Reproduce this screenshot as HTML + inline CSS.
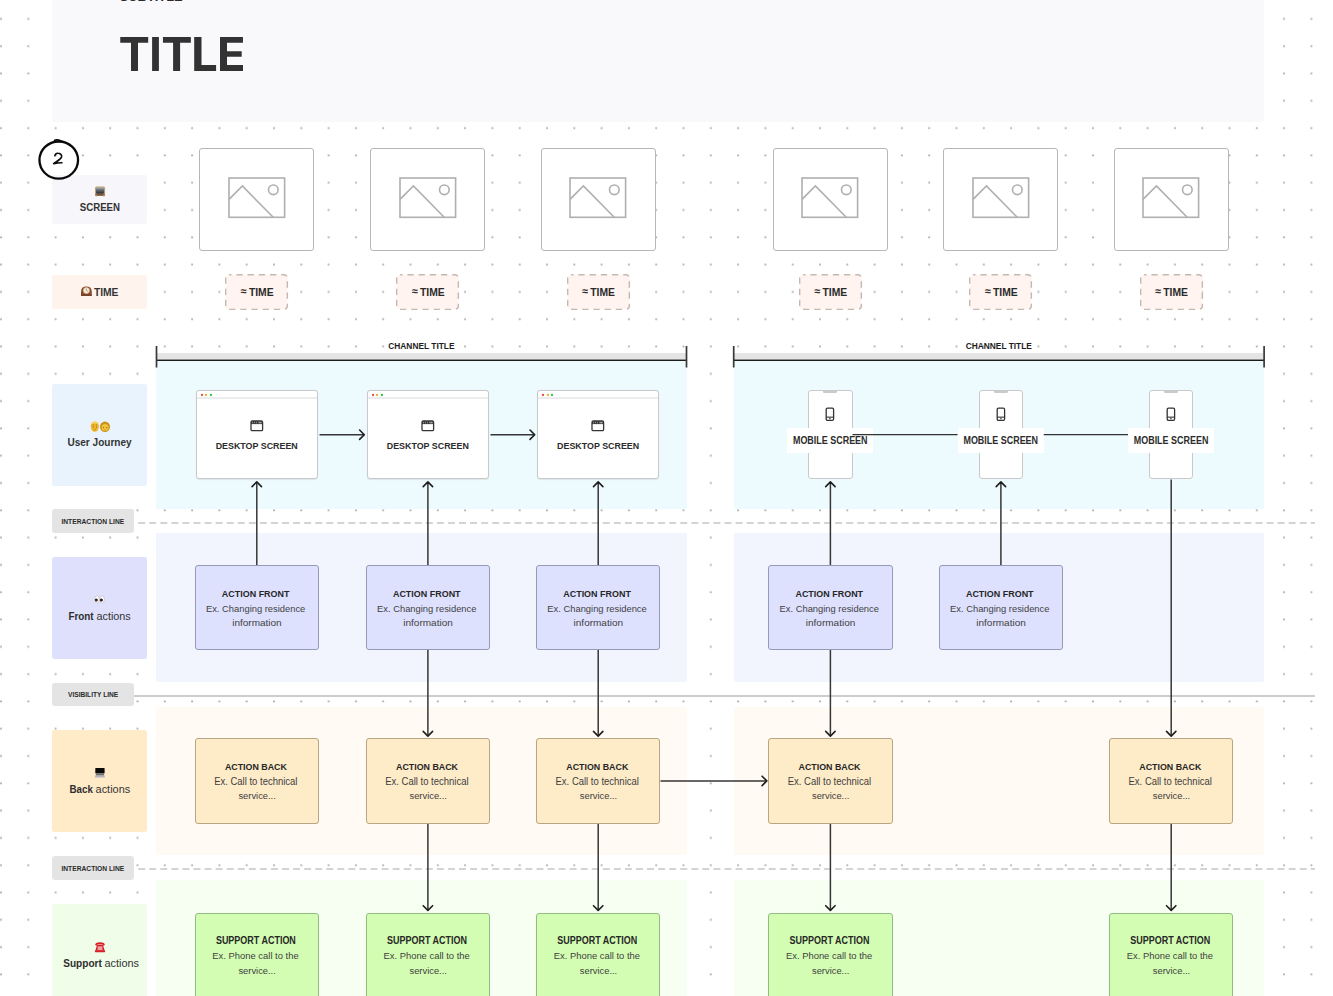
<!DOCTYPE html><html><head><meta charset="utf-8"><title>Service Blueprint</title><style>
html,body{margin:0;padding:0;}
body{width:1333px;height:996px;overflow:hidden;position:relative;background:#fff;font-family:'Liberation Sans', sans-serif;}
svg{position:absolute;left:0;top:0;}
.t{position:absolute;white-space:nowrap;transform-origin:0 0;}
</style></head><body>
<svg width="1333" height="996"><defs><pattern id="dp" x="0" y="0" width="27.3" height="27.3" patternUnits="userSpaceOnUse"><circle cx="1" cy="18.9" r="1.05" fill="#b2b2b2"/></pattern></defs><rect width="1333" height="996" fill="url(#dp)"/></svg>
<div style="position:absolute;left:52.00px;top:-4.00px;width:1211.80px;height:125.90px;background:#f9f9fb;border-radius:2.5px;"></div>
<svg width="260" height="80" style="left:0;top:0"><path fill="#323232" d="M120.25 37.1 H148.2 V42.8 H138 V70.9 H131 V42.8 H120.25 Z M152.1 37.1 H158.9 V70.9 H152.1 Z M162.95 37.1 H190.85 V42.8 H180.1 V70.9 H173.1 V42.8 H162.95 Z M194.2 37.1 H201.5 V65.1 H216.1 V70.9 H194.2 Z M220 37.1 H242.95 V42.8 H227 V51.2 H241.7 V56.8 H227 V65.1 H243 V70.9 H220 Z"/></svg>
<div style="position:absolute;left:52.00px;top:175.20px;width:95.40px;height:49.20px;background:#f6f6fb;border-radius:2.5px;"></div>
<div style="position:absolute;left:52.00px;top:274.70px;width:95.40px;height:34.70px;background:#fff3ee;border-radius:2.5px;"></div>
<div style="position:absolute;left:52.00px;top:383.50px;width:95.40px;height:102.40px;background:#e9f3fe;border-radius:2.5px;"></div>
<div style="position:absolute;left:52.00px;top:557.00px;width:95.40px;height:101.60px;background:#dfe1fc;border-radius:2.5px;"></div>
<div style="position:absolute;left:52.00px;top:730.40px;width:95.40px;height:101.30px;background:#ffebc8;border-radius:2.5px;"></div>
<div style="position:absolute;left:52.00px;top:904.30px;width:95.40px;height:100.00px;background:#effde9;border-radius:2.5px;"></div>
<div style="position:absolute;left:52.00px;top:509.20px;width:82.00px;height:23.60px;background:#e4e4e4;border-radius:3px;"></div>
<div style="position:absolute;left:52.00px;top:682.60px;width:82.00px;height:23.60px;background:#e4e4e4;border-radius:3px;"></div>
<div style="position:absolute;left:52.00px;top:856.00px;width:82.00px;height:23.60px;background:#e4e4e4;border-radius:3px;"></div>
<svg width="100" height="200" style="left:0;top:0"><g fill="none" stroke="#0a0a0a" stroke-linecap="round" stroke-linejoin="round">
<ellipse cx="58.75" cy="160.1" rx="19.3" ry="18.6" stroke-width="2.3"/>
<path d="M54.6 140.2 Q57.5 139.3 61.5 141.2" stroke-width="1.6"/>
<path d="M54.9 155.6 C55.3 153.9 56.6 153.2 58.0 153.3 C60.3 153.4 62.0 154.8 61.6 156.7 C61.1 158.7 57.8 161.0 53.6 163.6 C56.4 163.1 59.4 162.8 61.8 162.7" stroke-width="1.65"/>
</g></svg>
<div style="position:absolute;left:156.40px;top:361.20px;width:530.20px;height:147.40px;background:#edfbfe;border-radius:0 0 2px 2px;"></div>
<div style="position:absolute;left:156.40px;top:533.20px;width:530.20px;height:149.10px;background:#f2f4fe;border-radius:2px;"></div>
<div style="position:absolute;left:156.40px;top:706.70px;width:530.20px;height:148.30px;background:#fffaf3;border-radius:2px;"></div>
<div style="position:absolute;left:156.40px;top:879.50px;width:530.20px;height:130.00px;background:#f6fff1;border-radius:2px;"></div>
<div style="position:absolute;left:157.20px;top:353.30px;width:528.60px;height:6.10px;background:#e4e4e4;"></div>
<svg width="1333" height="400"><line x1="156.4" y1="360.15" x2="686.6" y2="360.15" stroke="#1c1c1c" stroke-width="1.5"/><line x1="156.5" y1="346" x2="156.5" y2="367.5" stroke="#383838" stroke-width="1.7"/><line x1="686.5" y1="346" x2="686.5" y2="367.5" stroke="#383838" stroke-width="1.7"/></svg>
<div style="position:absolute;left:733.60px;top:361.20px;width:530.60px;height:147.40px;background:#edfbfe;border-radius:0 0 2px 2px;"></div>
<div style="position:absolute;left:733.60px;top:533.20px;width:530.60px;height:149.10px;background:#f2f4fe;border-radius:2px;"></div>
<div style="position:absolute;left:733.60px;top:706.70px;width:530.60px;height:148.30px;background:#fffaf3;border-radius:2px;"></div>
<div style="position:absolute;left:733.60px;top:879.50px;width:530.60px;height:130.00px;background:#f6fff1;border-radius:2px;"></div>
<div style="position:absolute;left:734.40px;top:353.30px;width:529.00px;height:6.10px;background:#e4e4e4;"></div>
<svg width="1333" height="400"><line x1="733.6" y1="360.15" x2="1264.2" y2="360.15" stroke="#1c1c1c" stroke-width="1.5"/><line x1="733.7" y1="346" x2="733.7" y2="367.5" stroke="#383838" stroke-width="1.7"/><line x1="1264.1000000000001" y1="346" x2="1264.1000000000001" y2="367.5" stroke="#383838" stroke-width="1.7"/></svg>
<svg width="1333" height="700"><line x1="134" y1="696.0" x2="1315" y2="696.0" stroke="#bdbdbd" stroke-width="1.3"/></svg>
<svg width="1333" height="10" style="left:0;top:522.00px"><line x1="138.2" y1="1" x2="1315" y2="1" stroke="#c6c6c6" stroke-width="1.6" stroke-dasharray="7 4.062"/></svg>
<svg width="1333" height="10" style="left:0;top:868.30px"><line x1="138.2" y1="1" x2="1315" y2="1" stroke="#c6c6c6" stroke-width="1.6" stroke-dasharray="7 4.062"/></svg>
<div style="position:absolute;left:199.30px;top:148.20px;width:115.00px;height:103.20px;background:#fff;border:1px solid #b6b6b6;border-radius:3px;box-sizing:border-box;"></div>
<svg width="60" height="44" style="left:227.60px;top:176.6px"><g fill="none" stroke="#afafaf" stroke-width="1.6"><rect x="1" y="1" width="55.6" height="39.3"/><path d="M1 22.4 L14.4 9 L45.2 40.3"/><circle cx="45.3" cy="12.8" r="4.8"/></g></svg>
<div style="position:absolute;left:370.40px;top:148.20px;width:115.00px;height:103.20px;background:#fff;border:1px solid #b6b6b6;border-radius:3px;box-sizing:border-box;"></div>
<svg width="60" height="44" style="left:398.70px;top:176.6px"><g fill="none" stroke="#afafaf" stroke-width="1.6"><rect x="1" y="1" width="55.6" height="39.3"/><path d="M1 22.4 L14.4 9 L45.2 40.3"/><circle cx="45.3" cy="12.8" r="4.8"/></g></svg>
<div style="position:absolute;left:540.70px;top:148.20px;width:115.00px;height:103.20px;background:#fff;border:1px solid #b6b6b6;border-radius:3px;box-sizing:border-box;"></div>
<svg width="60" height="44" style="left:569.00px;top:176.6px"><g fill="none" stroke="#afafaf" stroke-width="1.6"><rect x="1" y="1" width="55.6" height="39.3"/><path d="M1 22.4 L14.4 9 L45.2 40.3"/><circle cx="45.3" cy="12.8" r="4.8"/></g></svg>
<div style="position:absolute;left:772.90px;top:148.20px;width:115.00px;height:103.20px;background:#fff;border:1px solid #b6b6b6;border-radius:3px;box-sizing:border-box;"></div>
<svg width="60" height="44" style="left:801.20px;top:176.6px"><g fill="none" stroke="#afafaf" stroke-width="1.6"><rect x="1" y="1" width="55.6" height="39.3"/><path d="M1 22.4 L14.4 9 L45.2 40.3"/><circle cx="45.3" cy="12.8" r="4.8"/></g></svg>
<div style="position:absolute;left:943.40px;top:148.20px;width:115.00px;height:103.20px;background:#fff;border:1px solid #b6b6b6;border-radius:3px;box-sizing:border-box;"></div>
<svg width="60" height="44" style="left:971.70px;top:176.6px"><g fill="none" stroke="#afafaf" stroke-width="1.6"><rect x="1" y="1" width="55.6" height="39.3"/><path d="M1 22.4 L14.4 9 L45.2 40.3"/><circle cx="45.3" cy="12.8" r="4.8"/></g></svg>
<div style="position:absolute;left:1113.70px;top:148.20px;width:115.00px;height:103.20px;background:#fff;border:1px solid #b6b6b6;border-radius:3px;box-sizing:border-box;"></div>
<svg width="60" height="44" style="left:1142.00px;top:176.6px"><g fill="none" stroke="#afafaf" stroke-width="1.6"><rect x="1" y="1" width="55.6" height="39.3"/><path d="M1 22.4 L14.4 9 L45.2 40.3"/><circle cx="45.3" cy="12.8" r="4.8"/></g></svg>
<svg width="66" height="40" style="left:225.20px;top:273.8px"><rect x="0.65" y="0.65" width="61.7" height="34.7" rx="3.5" fill="#fff4ef" stroke="#c5b8b2" stroke-width="1.45" stroke-dasharray="6.3 4.9" stroke-dashoffset="3.95"/></svg>
<svg width="66" height="40" style="left:396.30px;top:273.8px"><rect x="0.65" y="0.65" width="61.7" height="34.7" rx="3.5" fill="#fff4ef" stroke="#c5b8b2" stroke-width="1.45" stroke-dasharray="6.3 4.9" stroke-dashoffset="3.95"/></svg>
<svg width="66" height="40" style="left:566.60px;top:273.8px"><rect x="0.65" y="0.65" width="61.7" height="34.7" rx="3.5" fill="#fff4ef" stroke="#c5b8b2" stroke-width="1.45" stroke-dasharray="6.3 4.9" stroke-dashoffset="3.95"/></svg>
<svg width="66" height="40" style="left:798.80px;top:273.8px"><rect x="0.65" y="0.65" width="61.7" height="34.7" rx="3.5" fill="#fff4ef" stroke="#c5b8b2" stroke-width="1.45" stroke-dasharray="6.3 4.9" stroke-dashoffset="3.95"/></svg>
<svg width="66" height="40" style="left:969.30px;top:273.8px"><rect x="0.65" y="0.65" width="61.7" height="34.7" rx="3.5" fill="#fff4ef" stroke="#c5b8b2" stroke-width="1.45" stroke-dasharray="6.3 4.9" stroke-dashoffset="3.95"/></svg>
<svg width="66" height="40" style="left:1139.60px;top:273.8px"><rect x="0.65" y="0.65" width="61.7" height="34.7" rx="3.5" fill="#fff4ef" stroke="#c5b8b2" stroke-width="1.45" stroke-dasharray="6.3 4.9" stroke-dashoffset="3.95"/></svg>
<svg width="1333" height="996"><g fill="none" stroke="#363636" stroke-width="1.5"><line x1="319.5" y1="434.7" x2="364.3" y2="434.7"/><line x1="490.5" y1="434.7" x2="534.7" y2="434.7"/><line x1="256.8" y1="481.9" x2="256.8" y2="565"/><line x1="427.9" y1="481.9" x2="427.9" y2="565"/><line x1="598.2" y1="481.9" x2="598.2" y2="565"/><line x1="830.4" y1="481.9" x2="830.4" y2="565"/><line x1="1000.9" y1="481.9" x2="1000.9" y2="565"/><line x1="427.9" y1="650" x2="427.9" y2="736.1"/><line x1="598.2" y1="650" x2="598.2" y2="736.1"/><line x1="830.4" y1="650" x2="830.4" y2="736.1"/><line x1="1171.2" y1="479.5" x2="1171.2" y2="736.1"/><line x1="427.9" y1="823" x2="427.9" y2="910.4"/><line x1="598.2" y1="823" x2="598.2" y2="910.4"/><line x1="830.4" y1="823" x2="830.4" y2="910.4"/><line x1="1171.2" y1="823" x2="1171.2" y2="910.4"/><line x1="660.5" y1="780.9" x2="766.8" y2="780.9"/></g><g fill="none" stroke="#1e1e1e" stroke-width="1.6" stroke-linecap="round" stroke-linejoin="round"><polyline points="359.6,430.0 364.3,434.7 359.6,439.4"/><polyline points="530.0,430.0 534.7,434.7 530.0,439.4"/><polyline points="252.10000000000002,486.59999999999997 256.8,481.9 261.5,486.59999999999997"/><polyline points="423.2,486.59999999999997 427.9,481.9 432.59999999999997,486.59999999999997"/><polyline points="593.5,486.59999999999997 598.2,481.9 602.9000000000001,486.59999999999997"/><polyline points="825.6999999999999,486.59999999999997 830.4,481.9 835.1,486.59999999999997"/><polyline points="996.1999999999999,486.59999999999997 1000.9,481.9 1005.6,486.59999999999997"/><polyline points="423.2,731.4 427.9,736.1 432.59999999999997,731.4"/><polyline points="593.5,731.4 598.2,736.1 602.9000000000001,731.4"/><polyline points="825.6999999999999,731.4 830.4,736.1 835.1,731.4"/><polyline points="1166.5,731.4 1171.2,736.1 1175.9,731.4"/><polyline points="423.2,905.6999999999999 427.9,910.4 432.59999999999997,905.6999999999999"/><polyline points="593.5,905.6999999999999 598.2,910.4 602.9000000000001,905.6999999999999"/><polyline points="825.6999999999999,905.6999999999999 830.4,910.4 835.1,905.6999999999999"/><polyline points="1166.5,905.6999999999999 1171.2,910.4 1175.9,905.6999999999999"/><polyline points="762.0999999999999,776.1999999999999 766.8,780.9 762.0999999999999,785.6"/></g></svg>
<div style="position:absolute;left:195.80px;top:390.4px;width:122px;height:88.4px;background:#fff;border:1px solid #c9c9c9;border-radius:3px;box-sizing:border-box;box-shadow:0 0.5px 1px rgba(0,0,0,0.08)"></div>
<div style="position:absolute;left:196.80px;top:397.00px;width:120.00px;height:2.00px;background:#ececec;"></div>
<svg width="4" height="4" style="left:200.05px;top:392.6px"><circle cx="2" cy="2" r="1.15" fill="#f04a48"/></svg>
<svg width="4" height="4" style="left:204.20px;top:392.6px"><circle cx="2" cy="2" r="1.15" fill="#e9b12f"/></svg>
<svg width="4" height="4" style="left:208.50px;top:392.6px"><circle cx="2" cy="2" r="1.15" fill="#2bc842"/></svg>
<svg width="16" height="14" style="left:249.85px;top:419.55px"><rect x="1" y="1" width="11.6" height="9.6" rx="1.2" fill="none" stroke="#363636" stroke-width="1.3"/><rect x="1" y="1" width="11.6" height="3.1" fill="#363636"/><g fill="#9c9c9c"><rect x="2.1" y="1.7" width="0.8" height="1.7"/><rect x="4.2" y="1.7" width="0.8" height="1.7"/><rect x="6.2" y="1.7" width="0.8" height="1.7"/><rect x="8.4" y="1.7" width="3.2" height="1.7"/></g></svg>
<div style="position:absolute;left:366.90px;top:390.4px;width:122px;height:88.4px;background:#fff;border:1px solid #c9c9c9;border-radius:3px;box-sizing:border-box;box-shadow:0 0.5px 1px rgba(0,0,0,0.08)"></div>
<div style="position:absolute;left:367.90px;top:397.00px;width:120.00px;height:2.00px;background:#ececec;"></div>
<svg width="4" height="4" style="left:371.15px;top:392.6px"><circle cx="2" cy="2" r="1.15" fill="#f04a48"/></svg>
<svg width="4" height="4" style="left:375.30px;top:392.6px"><circle cx="2" cy="2" r="1.15" fill="#e9b12f"/></svg>
<svg width="4" height="4" style="left:379.60px;top:392.6px"><circle cx="2" cy="2" r="1.15" fill="#2bc842"/></svg>
<svg width="16" height="14" style="left:420.95px;top:419.55px"><rect x="1" y="1" width="11.6" height="9.6" rx="1.2" fill="none" stroke="#363636" stroke-width="1.3"/><rect x="1" y="1" width="11.6" height="3.1" fill="#363636"/><g fill="#9c9c9c"><rect x="2.1" y="1.7" width="0.8" height="1.7"/><rect x="4.2" y="1.7" width="0.8" height="1.7"/><rect x="6.2" y="1.7" width="0.8" height="1.7"/><rect x="8.4" y="1.7" width="3.2" height="1.7"/></g></svg>
<div style="position:absolute;left:537.20px;top:390.4px;width:122px;height:88.4px;background:#fff;border:1px solid #c9c9c9;border-radius:3px;box-sizing:border-box;box-shadow:0 0.5px 1px rgba(0,0,0,0.08)"></div>
<div style="position:absolute;left:538.20px;top:397.00px;width:120.00px;height:2.00px;background:#ececec;"></div>
<svg width="4" height="4" style="left:541.45px;top:392.6px"><circle cx="2" cy="2" r="1.15" fill="#f04a48"/></svg>
<svg width="4" height="4" style="left:545.60px;top:392.6px"><circle cx="2" cy="2" r="1.15" fill="#e9b12f"/></svg>
<svg width="4" height="4" style="left:549.90px;top:392.6px"><circle cx="2" cy="2" r="1.15" fill="#2bc842"/></svg>
<svg width="16" height="14" style="left:591.25px;top:419.55px"><rect x="1" y="1" width="11.6" height="9.6" rx="1.2" fill="none" stroke="#363636" stroke-width="1.3"/><rect x="1" y="1" width="11.6" height="3.1" fill="#363636"/><g fill="#9c9c9c"><rect x="2.1" y="1.7" width="0.8" height="1.7"/><rect x="4.2" y="1.7" width="0.8" height="1.7"/><rect x="6.2" y="1.7" width="0.8" height="1.7"/><rect x="8.4" y="1.7" width="3.2" height="1.7"/></g></svg>
<div style="position:absolute;left:808.10px;top:390.2px;width:44.5px;height:88.9px;background:#fff;border:1px solid #c9c9c9;border-radius:3px;box-sizing:border-box;"></div>
<div style="position:absolute;left:823.30px;top:391.10px;width:14.10px;height:2.30px;background:#cacaca;border-radius:0 0 1.2px 1.2px;"></div>
<svg width="12" height="16" style="left:825.40px;top:406.6px"><rect x="1.2" y="1.2" width="7.4" height="12.2" rx="1.3" fill="none" stroke="#333" stroke-width="1.3"/><rect x="1.2" y="9.6" width="7.4" height="1.1" fill="#333"/><rect x="4.1" y="11.2" width="1.6" height="1" fill="#333"/></svg>
<div style="position:absolute;left:787.40px;top:428.20px;width:86.00px;height:24.40px;background:#fff;"></div>
<div style="position:absolute;left:978.60px;top:390.2px;width:44.5px;height:88.9px;background:#fff;border:1px solid #c9c9c9;border-radius:3px;box-sizing:border-box;"></div>
<div style="position:absolute;left:993.80px;top:391.10px;width:14.10px;height:2.30px;background:#cacaca;border-radius:0 0 1.2px 1.2px;"></div>
<svg width="12" height="16" style="left:995.90px;top:406.6px"><rect x="1.2" y="1.2" width="7.4" height="12.2" rx="1.3" fill="none" stroke="#333" stroke-width="1.3"/><rect x="1.2" y="9.6" width="7.4" height="1.1" fill="#333"/><rect x="4.1" y="11.2" width="1.6" height="1" fill="#333"/></svg>
<div style="position:absolute;left:957.90px;top:428.20px;width:86.00px;height:24.40px;background:#fff;"></div>
<div style="position:absolute;left:1148.90px;top:390.2px;width:44.5px;height:88.9px;background:#fff;border:1px solid #c9c9c9;border-radius:3px;box-sizing:border-box;"></div>
<div style="position:absolute;left:1164.10px;top:391.10px;width:14.10px;height:2.30px;background:#cacaca;border-radius:0 0 1.2px 1.2px;"></div>
<svg width="12" height="16" style="left:1166.20px;top:406.6px"><rect x="1.2" y="1.2" width="7.4" height="12.2" rx="1.3" fill="none" stroke="#333" stroke-width="1.3"/><rect x="1.2" y="9.6" width="7.4" height="1.1" fill="#333"/><rect x="4.1" y="11.2" width="1.6" height="1" fill="#333"/></svg>
<div style="position:absolute;left:1128.20px;top:428.20px;width:86.00px;height:24.40px;background:#fff;"></div>
<svg width="1333" height="996"><g stroke="#333" stroke-width="1.4"><line x1="852.5" y1="434.6" x2="957.5" y2="434.6"/><line x1="1043.7" y1="434.6" x2="1128" y2="434.6"/></g></svg>
<div style="position:absolute;left:194.60px;top:564.9px;width:124.4px;height:85.6px;background:#dee1fe;border:1.4px solid #959ab9;border-radius:3px;box-sizing:border-box;"></div>
<div style="position:absolute;left:365.70px;top:564.9px;width:124.4px;height:85.6px;background:#dee1fe;border:1.4px solid #959ab9;border-radius:3px;box-sizing:border-box;"></div>
<div style="position:absolute;left:536.00px;top:564.9px;width:124.4px;height:85.6px;background:#dee1fe;border:1.4px solid #959ab9;border-radius:3px;box-sizing:border-box;"></div>
<div style="position:absolute;left:768.20px;top:564.9px;width:124.4px;height:85.6px;background:#dee1fe;border:1.4px solid #959ab9;border-radius:3px;box-sizing:border-box;"></div>
<div style="position:absolute;left:938.70px;top:564.9px;width:124.4px;height:85.6px;background:#dee1fe;border:1.4px solid #959ab9;border-radius:3px;box-sizing:border-box;"></div>
<div style="position:absolute;left:194.60px;top:738.2px;width:124.4px;height:85.5px;background:#feebc8;border:1.4px solid #b8a581;border-radius:3px;box-sizing:border-box;"></div>
<div style="position:absolute;left:365.70px;top:738.2px;width:124.4px;height:85.5px;background:#feebc8;border:1.4px solid #b8a581;border-radius:3px;box-sizing:border-box;"></div>
<div style="position:absolute;left:536.00px;top:738.2px;width:124.4px;height:85.5px;background:#feebc8;border:1.4px solid #b8a581;border-radius:3px;box-sizing:border-box;"></div>
<div style="position:absolute;left:768.20px;top:738.2px;width:124.4px;height:85.5px;background:#feebc8;border:1.4px solid #b8a581;border-radius:3px;box-sizing:border-box;"></div>
<div style="position:absolute;left:1109.00px;top:738.2px;width:124.4px;height:85.5px;background:#feebc8;border:1.4px solid #b8a581;border-radius:3px;box-sizing:border-box;"></div>
<div style="position:absolute;left:194.60px;top:912.5px;width:124.4px;height:95px;background:#d3fdb3;border:1.4px solid #93bc80;border-radius:3px;box-sizing:border-box;"></div>
<div style="position:absolute;left:365.70px;top:912.5px;width:124.4px;height:95px;background:#d3fdb3;border:1.4px solid #93bc80;border-radius:3px;box-sizing:border-box;"></div>
<div style="position:absolute;left:536.00px;top:912.5px;width:124.4px;height:95px;background:#d3fdb3;border:1.4px solid #93bc80;border-radius:3px;box-sizing:border-box;"></div>
<div style="position:absolute;left:768.20px;top:912.5px;width:124.4px;height:95px;background:#d3fdb3;border:1.4px solid #93bc80;border-radius:3px;box-sizing:border-box;"></div>
<div style="position:absolute;left:1109.00px;top:912.5px;width:124.4px;height:95px;background:#d3fdb3;border:1.4px solid #93bc80;border-radius:3px;box-sizing:border-box;"></div>
<svg width="130" height="996"><defs>
<linearGradient id="tvg" x1="0" y1="0" x2="0" y2="1"><stop offset="0" stop-color="#a9b3bc"/><stop offset="0.35" stop-color="#6c7379"/><stop offset="1" stop-color="#25292c"/></linearGradient>
</defs>
<rect x="95" y="186.5" width="10.1" height="9.5" rx="1.6" fill="#b9a274"/>
<rect x="96" y="187.5" width="8.1" height="6.3" rx="1.6" fill="url(#tvg)"/>
<rect x="95.3" y="193.9" width="9.5" height="1.6" fill="#a65c46"/>
<rect x="96.7" y="193.9" width="6.7" height="1.6" fill="#6d5a44"/>
<rect x="95.6" y="195.4" width="1.4" height="1.3" fill="#cbb486"/><rect x="103.2" y="195.4" width="1.4" height="1.3" fill="#cbb486"/>
<path d="M81 295.8 L81 291.8 Q81 286.5 86.4 286.5 Q91.8 286.5 91.8 291.8 L91.8 295.8 Z" fill="#8c4b2f"/>
<rect x="81" y="294.6" width="10.8" height="1.2" fill="#6e3822"/>
<circle cx="86.4" cy="290.5" r="3.1" fill="#f4ecd6" stroke="#cdb27c" stroke-width="0.6"/>
<path d="M86.4 288.6 L86.4 290.5 L87.8 291.3" stroke="#555" stroke-width="0.5" fill="none"/>
<ellipse cx="94.8" cy="426.6" rx="4.1" ry="5.2" fill="#f1b82b"/>
<path d="M91 424.5 Q91.5 421.2 94.8 421.3 Q98.2 421.3 98.7 424.3 L98.2 423.6 Q95 422.6 91.5 424 Z" fill="#f6d777"/>
<rect x="92.4" y="424.6" width="1.6" height="0.8" fill="#a97814"/><rect x="95.7" y="424.6" width="1.6" height="0.8" fill="#a97814"/>
<circle cx="93.3" cy="427" r="0.6" fill="#7a5a3a"/><circle cx="96.5" cy="427" r="0.6" fill="#7a5a3a"/>
<rect x="93.8" y="429.3" width="2.2" height="0.8" fill="#b8860f"/>
<ellipse cx="105" cy="426.7" rx="5" ry="5.2" fill="#c99218"/>
<ellipse cx="105.1" cy="427.5" rx="3.5" ry="3.5" fill="#f4c43c"/>
<circle cx="103.6" cy="427.6" r="0.6" fill="#7a5a3a"/><circle cx="106.8" cy="427.6" r="0.6" fill="#7a5a3a"/>
<rect x="104.3" y="429.5" width="1.8" height="0.7" fill="#b8860f"/>
<ellipse cx="97" cy="599.4" rx="2.2" ry="3.7" fill="#fff" stroke="#a9a9b9" stroke-width="0.5"/><ellipse cx="102.1" cy="599.4" rx="2.2" ry="3.7" fill="#fff" stroke="#a9a9b9" stroke-width="0.5"/>
<circle cx="96.3" cy="600.0" r="1.5" fill="#2a1a12"/><circle cx="101.4" cy="600.0" r="1.5" fill="#2a1a12"/>
<circle cx="95.9" cy="600.6" r="0.5" fill="#8a3a1a"/><circle cx="102.2" cy="599.9" r="0.5" fill="#8a3a1a"/>
<rect x="95.3" y="767.9" width="9.3" height="5.4" rx="0.4" fill="#0a0a0a"/>
<rect x="95.8" y="773.2" width="8.3" height="2.4" fill="#6b6b6b"/>
<rect x="95" y="775.5" width="9.8" height="2.1" rx="0.5" fill="#b3b6bf"/>
<path d="M95.2 945 Q95.2 942.3 100 942.2 Q104.8 942.3 104.8 945 L103.2 945.8 L102.6 944.4 L97.4 944.4 L96.8 945.8 Z" fill="#d81f26"/>
<path d="M97 945 L103 945 L104.6 950.6 L95.4 950.6 Z" fill="#d81f26"/>
<rect x="97.6" y="946.3" width="4.8" height="3.7" fill="#e9a3a3"/>
<rect x="94.9" y="950.3" width="10.2" height="1.9" rx="0.6" fill="#d81f26"/>
</svg>
<svg width="1333" height="996" style="font-family:'Liberation Sans', sans-serif"><text x="119.74" y="1.20" font-size="12.79" font-weight="700" fill="#2a2a2a" textLength="62.93" lengthAdjust="spacingAndGlyphs">SUBTITLE</text><text x="388.27" y="348.80" font-size="9.59" font-weight="700" fill="#1e1e1e" textLength="66.24" lengthAdjust="spacingAndGlyphs">CHANNEL TITLE</text><text x="965.67" y="348.80" font-size="9.59" font-weight="700" fill="#1e1e1e" textLength="66.24" lengthAdjust="spacingAndGlyphs">CHANNEL TITLE</text><text x="240.58" y="294.90" font-size="11.00" font-weight="700" fill="#2a2a2a" textLength="5.92" lengthAdjust="spacingAndGlyphs">&#8776;</text><text x="248.90" y="296.00" font-size="11.48" font-weight="700" fill="#2a2a2a" textLength="24.69" lengthAdjust="spacingAndGlyphs">TIME</text><text x="411.68" y="294.90" font-size="11.00" font-weight="700" fill="#2a2a2a" textLength="5.92" lengthAdjust="spacingAndGlyphs">&#8776;</text><text x="420.00" y="296.00" font-size="11.48" font-weight="700" fill="#2a2a2a" textLength="24.69" lengthAdjust="spacingAndGlyphs">TIME</text><text x="581.98" y="294.90" font-size="11.00" font-weight="700" fill="#2a2a2a" textLength="5.92" lengthAdjust="spacingAndGlyphs">&#8776;</text><text x="590.30" y="296.00" font-size="11.48" font-weight="700" fill="#2a2a2a" textLength="24.69" lengthAdjust="spacingAndGlyphs">TIME</text><text x="814.18" y="294.90" font-size="11.00" font-weight="700" fill="#2a2a2a" textLength="5.92" lengthAdjust="spacingAndGlyphs">&#8776;</text><text x="822.50" y="296.00" font-size="11.48" font-weight="700" fill="#2a2a2a" textLength="24.69" lengthAdjust="spacingAndGlyphs">TIME</text><text x="984.68" y="294.90" font-size="11.00" font-weight="700" fill="#2a2a2a" textLength="5.92" lengthAdjust="spacingAndGlyphs">&#8776;</text><text x="993.00" y="296.00" font-size="11.48" font-weight="700" fill="#2a2a2a" textLength="24.69" lengthAdjust="spacingAndGlyphs">TIME</text><text x="1154.98" y="294.90" font-size="11.00" font-weight="700" fill="#2a2a2a" textLength="5.92" lengthAdjust="spacingAndGlyphs">&#8776;</text><text x="1163.30" y="296.00" font-size="11.48" font-weight="700" fill="#2a2a2a" textLength="24.69" lengthAdjust="spacingAndGlyphs">TIME</text><text x="79.81" y="211.30" font-size="10.76" font-weight="700" fill="#333" textLength="40.19" lengthAdjust="spacingAndGlyphs">SCREEN</text><text x="93.90" y="295.80" font-size="11.19" font-weight="700" fill="#333" textLength="24.48" lengthAdjust="spacingAndGlyphs">TIME</text><text x="67.40" y="446.10" font-size="10.32" font-weight="700" fill="#333" textLength="64.26" lengthAdjust="spacingAndGlyphs">User Journey</text><text x="68.41" y="619.60" font-size="10.76" font-weight="700" fill="#2e2e2e" textLength="25.22" lengthAdjust="spacingAndGlyphs">Front</text><text x="96.47" y="619.60" font-size="10.76" font-weight="400" fill="#333" textLength="34.26" lengthAdjust="spacingAndGlyphs">actions</text><text x="69.51" y="792.70" font-size="10.76" font-weight="700" fill="#2e2e2e" textLength="23.35" lengthAdjust="spacingAndGlyphs">Back</text><text x="95.56" y="792.70" font-size="10.76" font-weight="400" fill="#333" textLength="34.67" lengthAdjust="spacingAndGlyphs">actions</text><text x="63.20" y="966.90" font-size="10.76" font-weight="700" fill="#2e2e2e" textLength="38.63" lengthAdjust="spacingAndGlyphs">Support</text><text x="104.46" y="966.90" font-size="10.76" font-weight="400" fill="#333" textLength="34.56" lengthAdjust="spacingAndGlyphs">actions</text><text x="61.40" y="523.90" font-size="7.27" font-weight="700" fill="#2a2a2a" textLength="62.85" lengthAdjust="spacingAndGlyphs">INTERACTION LINE</text><text x="68.00" y="697.20" font-size="7.56" font-weight="700" fill="#2a2a2a" textLength="50.24" lengthAdjust="spacingAndGlyphs">VISIBILITY LINE</text><text x="61.40" y="870.70" font-size="7.27" font-weight="700" fill="#2a2a2a" textLength="62.85" lengthAdjust="spacingAndGlyphs">INTERACTION LINE</text><text x="215.67" y="448.90" font-size="9.74" font-weight="700" fill="#2b2b2b" textLength="82.08" lengthAdjust="spacingAndGlyphs">DESKTOP SCREEN</text><text x="386.77" y="448.90" font-size="9.74" font-weight="700" fill="#2b2b2b" textLength="82.08" lengthAdjust="spacingAndGlyphs">DESKTOP SCREEN</text><text x="557.07" y="448.90" font-size="9.74" font-weight="700" fill="#2b2b2b" textLength="82.08" lengthAdjust="spacingAndGlyphs">DESKTOP SCREEN</text><text x="792.96" y="443.50" font-size="10.47" font-weight="700" fill="#2b2b2b" textLength="74.59" lengthAdjust="spacingAndGlyphs">MOBILE SCREEN</text><text x="963.46" y="443.50" font-size="10.47" font-weight="700" fill="#2b2b2b" textLength="74.59" lengthAdjust="spacingAndGlyphs">MOBILE SCREEN</text><text x="1133.76" y="443.50" font-size="10.47" font-weight="700" fill="#2b2b2b" textLength="74.59" lengthAdjust="spacingAndGlyphs">MOBILE SCREEN</text><text x="221.82" y="596.80" font-size="9.74" font-weight="700" fill="#262626" textLength="67.69" lengthAdjust="spacingAndGlyphs">ACTION FRONT</text><text x="205.95" y="611.80" font-size="9.88" font-weight="400" fill="#3f3f3f" textLength="99.39" lengthAdjust="spacingAndGlyphs">Ex. Changing residence</text><text x="232.20" y="625.80" font-size="9.60" font-weight="400" fill="#3f3f3f" textLength="49.46" lengthAdjust="spacingAndGlyphs">information</text><text x="392.92" y="596.80" font-size="9.74" font-weight="700" fill="#262626" textLength="67.69" lengthAdjust="spacingAndGlyphs">ACTION FRONT</text><text x="377.05" y="611.80" font-size="9.88" font-weight="400" fill="#3f3f3f" textLength="99.39" lengthAdjust="spacingAndGlyphs">Ex. Changing residence</text><text x="403.30" y="625.80" font-size="9.60" font-weight="400" fill="#3f3f3f" textLength="49.46" lengthAdjust="spacingAndGlyphs">information</text><text x="563.22" y="596.80" font-size="9.74" font-weight="700" fill="#262626" textLength="67.69" lengthAdjust="spacingAndGlyphs">ACTION FRONT</text><text x="547.35" y="611.80" font-size="9.88" font-weight="400" fill="#3f3f3f" textLength="99.39" lengthAdjust="spacingAndGlyphs">Ex. Changing residence</text><text x="573.60" y="625.80" font-size="9.60" font-weight="400" fill="#3f3f3f" textLength="49.46" lengthAdjust="spacingAndGlyphs">information</text><text x="795.42" y="596.80" font-size="9.74" font-weight="700" fill="#262626" textLength="67.69" lengthAdjust="spacingAndGlyphs">ACTION FRONT</text><text x="779.55" y="611.80" font-size="9.88" font-weight="400" fill="#3f3f3f" textLength="99.39" lengthAdjust="spacingAndGlyphs">Ex. Changing residence</text><text x="805.80" y="625.80" font-size="9.60" font-weight="400" fill="#3f3f3f" textLength="49.46" lengthAdjust="spacingAndGlyphs">information</text><text x="965.92" y="596.80" font-size="9.74" font-weight="700" fill="#262626" textLength="67.69" lengthAdjust="spacingAndGlyphs">ACTION FRONT</text><text x="950.05" y="611.80" font-size="9.88" font-weight="400" fill="#3f3f3f" textLength="99.39" lengthAdjust="spacingAndGlyphs">Ex. Changing residence</text><text x="976.30" y="625.80" font-size="9.60" font-weight="400" fill="#3f3f3f" textLength="49.46" lengthAdjust="spacingAndGlyphs">information</text><text x="224.92" y="769.90" font-size="9.88" font-weight="700" fill="#262626" textLength="62.00" lengthAdjust="spacingAndGlyphs">ACTION BACK</text><text x="214.14" y="784.50" font-size="10.03" font-weight="400" fill="#3f3f3f" textLength="83.35" lengthAdjust="spacingAndGlyphs">Ex. Call to technical</text><text x="238.41" y="799.10" font-size="9.60" font-weight="400" fill="#3f3f3f" textLength="37.41" lengthAdjust="spacingAndGlyphs">service...</text><text x="396.02" y="769.90" font-size="9.88" font-weight="700" fill="#262626" textLength="62.00" lengthAdjust="spacingAndGlyphs">ACTION BACK</text><text x="385.24" y="784.50" font-size="10.03" font-weight="400" fill="#3f3f3f" textLength="83.35" lengthAdjust="spacingAndGlyphs">Ex. Call to technical</text><text x="409.51" y="799.10" font-size="9.60" font-weight="400" fill="#3f3f3f" textLength="37.41" lengthAdjust="spacingAndGlyphs">service...</text><text x="566.32" y="769.90" font-size="9.88" font-weight="700" fill="#262626" textLength="62.00" lengthAdjust="spacingAndGlyphs">ACTION BACK</text><text x="555.54" y="784.50" font-size="10.03" font-weight="400" fill="#3f3f3f" textLength="83.35" lengthAdjust="spacingAndGlyphs">Ex. Call to technical</text><text x="579.81" y="799.10" font-size="9.60" font-weight="400" fill="#3f3f3f" textLength="37.41" lengthAdjust="spacingAndGlyphs">service...</text><text x="798.52" y="769.90" font-size="9.88" font-weight="700" fill="#262626" textLength="62.00" lengthAdjust="spacingAndGlyphs">ACTION BACK</text><text x="787.74" y="784.50" font-size="10.03" font-weight="400" fill="#3f3f3f" textLength="83.35" lengthAdjust="spacingAndGlyphs">Ex. Call to technical</text><text x="812.01" y="799.10" font-size="9.60" font-weight="400" fill="#3f3f3f" textLength="37.41" lengthAdjust="spacingAndGlyphs">service...</text><text x="1139.32" y="769.90" font-size="9.88" font-weight="700" fill="#262626" textLength="62.00" lengthAdjust="spacingAndGlyphs">ACTION BACK</text><text x="1128.54" y="784.50" font-size="10.03" font-weight="400" fill="#3f3f3f" textLength="83.35" lengthAdjust="spacingAndGlyphs">Ex. Call to technical</text><text x="1152.81" y="799.10" font-size="9.60" font-weight="400" fill="#3f3f3f" textLength="37.41" lengthAdjust="spacingAndGlyphs">service...</text><text x="215.92" y="944.30" font-size="10.03" font-weight="700" fill="#262626" textLength="79.93" lengthAdjust="spacingAndGlyphs">SUPPORT ACTION</text><text x="212.35" y="958.90" font-size="9.30" font-weight="400" fill="#3f3f3f" textLength="86.29" lengthAdjust="spacingAndGlyphs">Ex. Phone call to the</text><text x="238.41" y="973.50" font-size="9.60" font-weight="400" fill="#3f3f3f" textLength="37.41" lengthAdjust="spacingAndGlyphs">service...</text><text x="387.02" y="944.30" font-size="10.03" font-weight="700" fill="#262626" textLength="79.93" lengthAdjust="spacingAndGlyphs">SUPPORT ACTION</text><text x="383.45" y="958.90" font-size="9.30" font-weight="400" fill="#3f3f3f" textLength="86.29" lengthAdjust="spacingAndGlyphs">Ex. Phone call to the</text><text x="409.51" y="973.50" font-size="9.60" font-weight="400" fill="#3f3f3f" textLength="37.41" lengthAdjust="spacingAndGlyphs">service...</text><text x="557.32" y="944.30" font-size="10.03" font-weight="700" fill="#262626" textLength="79.93" lengthAdjust="spacingAndGlyphs">SUPPORT ACTION</text><text x="553.75" y="958.90" font-size="9.30" font-weight="400" fill="#3f3f3f" textLength="86.29" lengthAdjust="spacingAndGlyphs">Ex. Phone call to the</text><text x="579.81" y="973.50" font-size="9.60" font-weight="400" fill="#3f3f3f" textLength="37.41" lengthAdjust="spacingAndGlyphs">service...</text><text x="789.52" y="944.30" font-size="10.03" font-weight="700" fill="#262626" textLength="79.93" lengthAdjust="spacingAndGlyphs">SUPPORT ACTION</text><text x="785.95" y="958.90" font-size="9.30" font-weight="400" fill="#3f3f3f" textLength="86.29" lengthAdjust="spacingAndGlyphs">Ex. Phone call to the</text><text x="812.01" y="973.50" font-size="9.60" font-weight="400" fill="#3f3f3f" textLength="37.41" lengthAdjust="spacingAndGlyphs">service...</text><text x="1130.32" y="944.30" font-size="10.03" font-weight="700" fill="#262626" textLength="79.93" lengthAdjust="spacingAndGlyphs">SUPPORT ACTION</text><text x="1126.75" y="958.90" font-size="9.30" font-weight="400" fill="#3f3f3f" textLength="86.29" lengthAdjust="spacingAndGlyphs">Ex. Phone call to the</text><text x="1152.81" y="973.50" font-size="9.60" font-weight="400" fill="#3f3f3f" textLength="37.41" lengthAdjust="spacingAndGlyphs">service...</text></svg>
</body></html>
